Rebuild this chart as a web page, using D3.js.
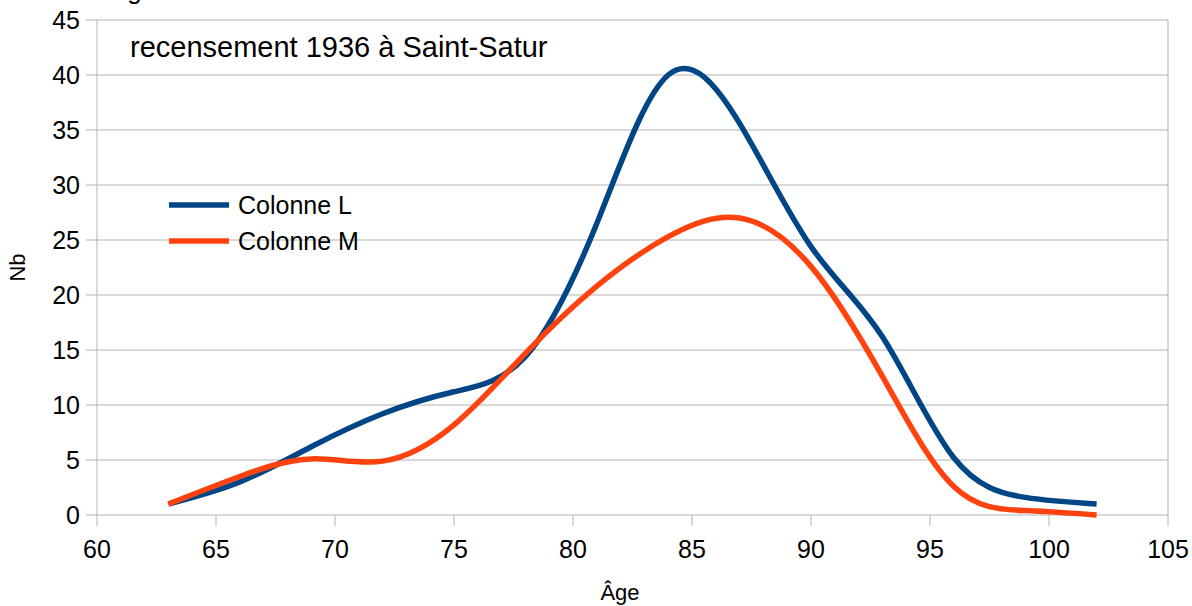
<!DOCTYPE html>
<html>
<head>
<meta charset="utf-8">
<script src="https://cdn.jsdelivr.net/npm/d3@7/dist/d3.min.js"></script>
<style>
  body { margin: 0; background: #fff; }
  svg text { font-family: "Liberation Sans", Arial, sans-serif; fill: #000; }
</style>
</head>
<body>
<div id="chart"></div>
<script>
// Ages (every 3 years) and counts
const ages = [63, 66, 69, 72, 75, 78, 81, 84, 87, 90, 93, 96, 99, 102];
const colonneL = [1, 3, 6.2, 9.2, 11.2, 14.4, 26.5, 40, 35.6, 24.4, 16.2, 5.2, 1.6, 1];
const colonneM = [1, 3.5, 5.1, 4.9, 8.2, 14.7, 20.8, 25.3, 27, 22.6, 12.6, 2.6, 0.4, 0];
const xTicks = [60, 65, 70, 75, 80, 85, 90, 95, 100, 105];
const yTicks = [0, 5, 10, 15, 20, 25, 30, 35, 40, 45];
const seriesNames = ["Colonne L", "Colonne M"];
const seriesColors = ["#004586", "#ff420e"];

const width = 1192, height = 606;
const margin = { top: 20, right: 24, bottom: 91, left: 97 };
const innerW = width - margin.left - margin.right;
const innerH = height - margin.top - margin.bottom;

const svg = d3.select("#chart").append("svg")
  .attr("width", width)
  .attr("height", height);

const g = svg.append("g").attr("transform", `translate(${margin.left},${margin.top})`);

const x = d3.scaleLinear().domain([60, 105]).range([0, innerW]);
const y = d3.scaleLinear().domain([0, 45]).range([innerH, 0]);

// horizontal grid
g.append("g")
  .selectAll("line")
  .data(yTicks)
  .join("line")
  .attr("x1", -11)
  .attr("x2", innerW)
  .attr("y1", d => y(d))
  .attr("y2", d => y(d))
  .attr("stroke", "#b3b3b3")
  .attr("stroke-width", 1);

// left and right frame lines
[0, innerW].forEach(px => {
  g.append("line")
    .attr("x1", px).attr("x2", px)
    .attr("y1", 0).attr("y2", innerH)
    .attr("stroke", "#b3b3b3");
});

// x ticks below the axis
g.append("g")
  .selectAll("line")
  .data(xTicks)
  .join("line")
  .attr("x1", d => x(d))
  .attr("x2", d => x(d))
  .attr("y1", innerH)
  .attr("y2", innerH + 11)
  .attr("stroke", "#b3b3b3");

g.append("g")
  .selectAll("text")
  .data(xTicks)
  .join("text")
  .attr("x", d => x(d))
  .attr("y", innerH + 43)
  .attr("text-anchor", "middle")
  .attr("font-size", 25)
  .text(d => d);

g.append("g")
  .selectAll("text")
  .data(yTicks)
  .join("text")
  .attr("x", -17)
  .attr("y", d => y(d) + 9)
  .attr("text-anchor", "end")
  .attr("font-size", 25)
  .text(d => d);

// axis titles
svg.append("text")
  .attr("x", 620)
  .attr("y", 600)
  .attr("text-anchor", "middle")
  .attr("font-size", 22)
  .text("Âge");

svg.append("text")
  .attr("transform", `translate(25,${margin.top + innerH / 2}) rotate(-90)`)
  .attr("text-anchor", "middle")
  .attr("font-size", 22)
  .text("Nb");

// main title, clipped by the top edge as in the source
svg.append("text")
  .attr("x", 110)
  .attr("y", -1.5)
  .attr("font-size", 26)
  .text("Âge");

svg.append("text")
  .attr("x", 130)
  .attr("y", 57)
  .attr("font-size", 29)
  .text("recensement 1936 à Saint-Satur");

// series
const line = d3.line()
  .x(d => x(d[0]))
  .y(d => y(d[1]))
  .curve(d3.curveNatural);

[colonneL, colonneM].forEach((vals, i) => {
  g.append("path")
    .datum(ages.map((a, k) => [a, vals[k]]))
    .attr("fill", "none")
    .attr("stroke", seriesColors[i])
    .attr("stroke-width", 5.5)
    .attr("stroke-linejoin", "round")
    .attr("d", line);
});

// legend
const legend = svg.append("g").attr("transform", "translate(169,205)");
seriesNames.forEach((name, i) => {
  const row = legend.append("g").attr("transform", `translate(0,${i * 36})`);
  row.append("line")
    .attr("x1", 0).attr("x2", 60)
    .attr("stroke", seriesColors[i])
    .attr("stroke-width", 5.5);
  row.append("text")
    .attr("x", 69)
    .attr("y", 9)
    .attr("font-size", 25)
    .text(name);
});
</script>
</body>
</html>
